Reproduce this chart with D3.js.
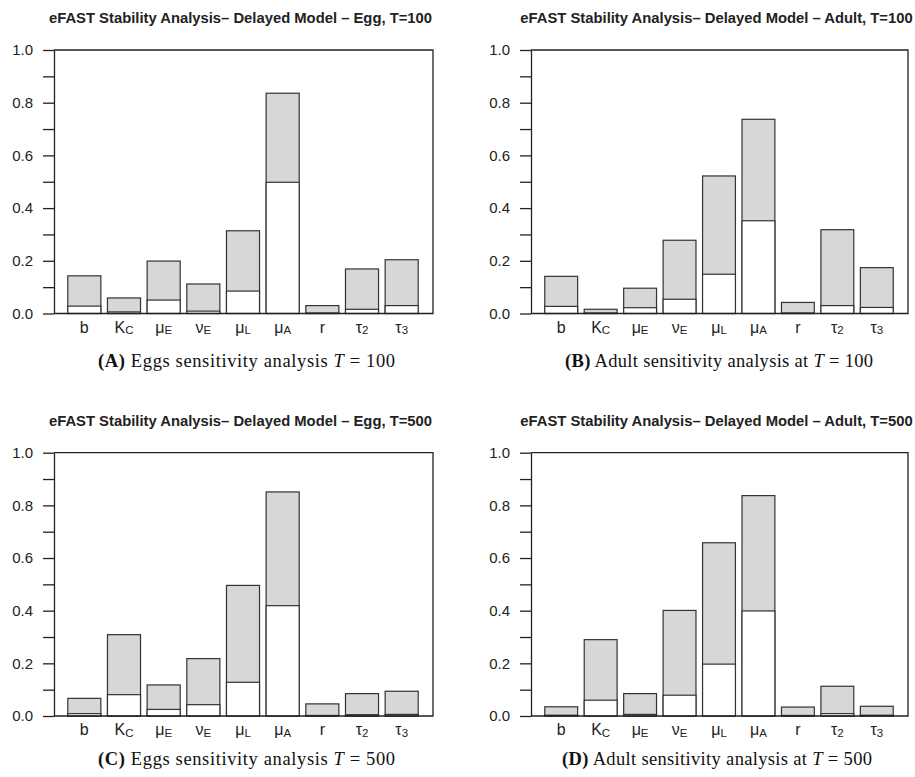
<!DOCTYPE html>
<html>
<head>
<meta charset="utf-8">
<script src="https://cdn.jsdelivr.net/npm/d3@7"></script>
<style>
  html, body { margin: 0; padding: 0; background: #fff; }
  svg { display: block; }
</style>
</head>
<body>
<svg id="chart" width="915" height="777"></svg>
<script>
// ---------- DATA ----------
const catBase = ["b", "K", "μ", "ν", "μ", "μ", "r", "τ", "τ"];
const catSub  = ["",  "C", "E", "E", "L", "A", "",  "2", "3"];
const categories = catBase.map((b, i) => b + "_" + catSub[i]);

const yTicks = [0, 0.1, 0.2, 0.3, 0.4, 0.5, 0.6, 0.7, 0.8, 0.9, 1.0];
const yTickLabels = ["0.0", "", "0.2", "", "0.4", "", "0.6", "", "0.8", "", "1.0"];

const eggT100Total   = [0.143, 0.059, 0.199, 0.112, 0.314, 0.836, 0.030, 0.169, 0.204];
const eggT100First   = [0.028, 0.006, 0.051, 0.009, 0.085, 0.498, 0.002, 0.016, 0.030];
const adultT100Total = [0.141, 0.016, 0.096, 0.278, 0.522, 0.737, 0.042, 0.318, 0.174];
const adultT100First = [0.027, 0.002, 0.022, 0.054, 0.149, 0.352, 0.002, 0.030, 0.023];
const eggT500Total   = [0.067, 0.309, 0.118, 0.218, 0.496, 0.851, 0.046, 0.085, 0.094];
const eggT500First   = [0.009, 0.081, 0.025, 0.043, 0.128, 0.419, 0.002, 0.005, 0.006];
const adultT500Total = [0.035, 0.290, 0.085, 0.401, 0.658, 0.837, 0.034, 0.113, 0.037];
const adultT500First = [0.003, 0.060, 0.006, 0.079, 0.197, 0.399, 0.002, 0.009, 0.003];

const titles = [
  "eFAST Stability Analysis\u2013 Delayed Model \u2013 Egg, T=100",
  "eFAST Stability Analysis\u2013 Delayed Model \u2013 Adult, T=100",
  "eFAST Stability Analysis\u2013 Delayed Model \u2013 Egg, T=500",
  "eFAST Stability Analysis\u2013 Delayed Model \u2013 Adult, T=500"
];
const captionLetters = ["(A)", "(B)", "(C)", "(D)"];
const captionTexts = [" Eggs sensitivity analysis ", " Adult sensitivity analysis at ",
                      " Eggs sensitivity analysis ", " Adult sensitivity analysis at "];
const captionT = ["100", "100", "500", "500"];

// ---------- LAYOUT ----------
const panels = [
  { left: 54,  right: 433, top: 50,    bottom: 313.5, capDy: 53, capW: 297, capX: 246.5, total: eggT100Total,   first: eggT100First },
  { left: 531, right: 908, top: 50,    bottom: 313.5, capDy: 53, capW: 308, capX: 719,   total: adultT100Total, first: adultT100First },
  { left: 54,  right: 433, top: 452.7, bottom: 716,   capDy: 49, capW: 297, capX: 246.5, total: eggT500Total,   first: eggT500First },
  { left: 531, right: 908, top: 452.7, bottom: 716,   capDy: 49, capW: 310, capX: 717,   total: adultT500Total, first: adultT500First }
];

const svg = d3.select("#chart");
const sans = "'Liberation Sans', Arial, Helvetica, sans-serif";
const serif = "'Liberation Serif', 'Times New Roman', Times, serif";
const ink = "#222";
const barStroke = "#333";
const grayFill = "#d6d7d9";

panels.forEach((p, pi) => {
  const g = svg.append("g");
  const y = d3.scaleLinear().domain([0, 1]).range([p.bottom, p.top]);
  const x = d3.scaleBand().domain(categories)
    .range([p.left + 10.5, p.right - 11.5])
    .paddingInner(0.167).paddingOuter(0.083);

  // title
  g.append("text")
    .attr("x", (p.left + p.right) / 2 - 3)
    .attr("y", p.top - 27)
    .attr("text-anchor", "middle")
    .attr("font-family", sans)
    .attr("font-weight", "bold")
    .attr("font-size", 14.8)
    .attr("fill", ink)
    .text(titles[pi]);

  // bars: total (gray) then first-order (white) overlaid
  const bars = g.append("g");
  bars.selectAll("rect.total").data(categories).join("rect")
    .attr("class", "total")
    .attr("x", d => x(d))
    .attr("width", x.bandwidth())
    .attr("y", (d, i) => y(p.total[i]))
    .attr("height", (d, i) => y(0) - y(p.total[i]))
    .attr("fill", grayFill)
    .attr("stroke", barStroke)
    .attr("stroke-width", 1.2);
  bars.selectAll("rect.first").data(categories).join("rect")
    .attr("class", "first")
    .attr("x", d => x(d))
    .attr("width", x.bandwidth())
    .attr("y", (d, i) => y(p.first[i]))
    .attr("height", (d, i) => y(0) - y(p.first[i]))
    .attr("fill", "#fff")
    .attr("stroke", barStroke)
    .attr("stroke-width", 1.2);

  // frame (top, right, bottom)
  g.append("path")
    .attr("d", `M${p.left},${p.top}H${p.right}V${p.bottom}H${p.left}`)
    .attr("fill", "none")
    .attr("stroke", ink)
    .attr("stroke-width", 1.3);

  // y axis
  const yAxis = d3.axisLeft(y)
    .tickValues(yTicks)
    .tickFormat((d, i) => yTickLabels[i])
    .tickSize(11)
    .tickSizeOuter(0)
    .tickPadding(10);
  const ya = g.append("g").attr("transform", `translate(${p.left},0)`).call(yAxis);
  ya.select(".domain").attr("stroke", ink).attr("stroke-width", 1.3);
  ya.selectAll(".tick line").attr("stroke", ink).attr("stroke-width", 1.3);
  ya.selectAll(".tick text")
    .attr("font-family", sans).attr("font-size", 15).attr("fill", ink);

  // x axis labels (no ticks)
  const xAxis = d3.axisBottom(x).tickSize(0).tickPadding(0);
  const xa = g.append("g").attr("transform", `translate(0,${p.bottom})`).call(xAxis);
  xa.select(".domain").remove();
  xa.selectAll(".tick text").each(function (d, i) {
    const t = d3.select(this);
    t.text(null)
      .attr("font-family", sans).attr("font-size", 16).attr("fill", ink)
      .attr("y", 19).attr("dy", 0);
    t.append("tspan").text(catBase[i]);
    if (catSub[i]) {
      t.append("tspan").attr("font-size", 11.5).attr("dy", 1.5).text(catSub[i]);
    }
  });

  // caption
  const cap = g.append("text")
    .attr("x", p.capX)
    .attr("y", p.bottom + p.capDy)
    .attr("text-anchor", "middle")
    .attr("font-family", serif)
    .attr("font-size", 18.5)
    .attr("fill", "#111")
    .attr("textLength", p.capW)
    .attr("lengthAdjust", "spacing");
  cap.append("tspan").attr("font-weight", "bold").text(captionLetters[pi]);
  cap.append("tspan").text(captionTexts[pi]);
  cap.append("tspan").attr("font-style", "italic").text("T");
  cap.append("tspan").text(" = " + captionT[pi]);
});
</script>
</body>
</html>
